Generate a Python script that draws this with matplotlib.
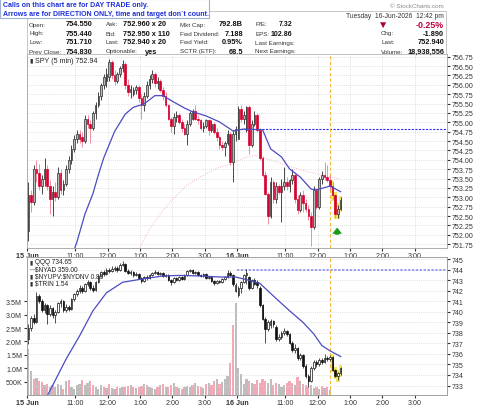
import numpy as np
import matplotlib.pyplot as plt
from matplotlib.patches import Rectangle

plt.rcParams['font.family'] = ['Liberation Sans', 'DejaVu Sans']

# 5 min bars: 15 Jun (bars 0-77) and 16 Jun up to 12:40 (bars 78-116)
spy_open = [752.10, 753.05, 752.88, 753.75, 753.65, 753.30, 753.50, 753.75, 753.30, 752.95,
            753.15, 753.00, 753.65, 753.20, 753.35, 753.75, 754.00, 754.30, 754.55, 754.70,
            754.60, 754.50, 755.10, 754.95, 754.85, 755.25, 755.45, 755.70, 756.00, 756.10,
            756.20, 756.60, 756.25, 756.10, 756.30, 756.45, 756.55, 756.00, 755.80, 755.75,
            755.85, 755.95, 755.65, 755.45, 755.70, 756.00, 756.15, 756.30, 756.05, 756.10,
            755.85, 755.70, 755.45, 755.10, 754.90, 755.15, 755.20, 755.00, 754.85, 754.70,
            754.95, 755.10, 755.30, 755.10, 755.05, 754.85, 754.90, 755.05, 754.80, 754.95,
            754.75, 754.60, 754.40, 754.35, 754.45, 754.70, 753.95, 754.70,
            754.55, 755.35, 755.10, 754.80, 755.40, 754.40, 754.95, 755.20, 754.80, 754.05,
            753.60, 753.10, 752.50, 753.40, 752.95, 753.30, 753.15, 753.30, 753.40, 753.30,
            753.45, 753.60, 752.95, 752.65, 753.05, 752.85, 752.70, 752.50, 752.20, 753.20,
            752.75, 753.50, 753.60, 753.55, 753.45, 753.30, 753.05, 752.55, 752.70]
spy_high = [753.40, 753.20, 753.85, 754.00, 753.90, 753.60, 754.05, 753.85, 753.45, 753.30,
            753.40, 753.80, 753.75, 753.45, 753.85, 754.10, 754.40, 754.65, 754.80, 754.80,
            754.75, 755.20, 755.20, 755.05, 755.30, 755.55, 755.80, 756.05, 756.30, 756.45,
            756.70, 756.65, 756.40, 756.35, 756.50, 756.65, 756.60, 756.15, 756.00, 755.95,
            756.00, 756.00, 755.75, 755.80, 756.10, 756.25, 756.40, 756.35, 756.20, 756.15,
            755.95, 755.80, 755.50, 755.15, 755.25, 755.30, 755.25, 755.10, 754.95, 755.05,
            755.30, 755.35, 755.45, 755.20, 755.10, 755.00, 755.10, 755.10, 755.05, 755.00,
            754.85, 754.65, 754.50, 754.50, 754.80, 754.75, 754.80, 754.90,
            755.44, 755.45, 755.30, 755.44, 755.45, 755.05, 755.30, 755.25, 754.85, 754.10,
            753.70, 753.15, 753.55, 753.45, 753.40, 753.35, 753.50, 753.80, 753.55, 753.50,
            753.75, 753.65, 753.05, 753.15, 753.20, 752.95, 752.80, 752.60, 753.30, 753.25,
            753.55, 753.70, 753.95, 753.85, 753.60, 753.40, 753.10, 752.80, 753.00]
spy_low = [751.84, 752.60, 752.80, 753.40, 753.20, 753.10, 753.30, 753.20, 752.55, 752.50,
           752.90, 752.95, 753.10, 753.05, 753.30, 753.65, 753.90, 754.20, 754.45, 754.45,
           754.35, 754.45, 754.85, 754.45, 754.80, 755.10, 755.40, 755.60, 755.90, 755.95,
           756.10, 756.15, 756.00, 756.05, 756.20, 756.35, 755.90, 755.70, 755.65, 755.70,
           755.75, 755.55, 755.10, 755.30, 755.65, 755.90, 756.05, 755.95, 755.90, 755.80,
           755.60, 755.40, 755.05, 754.75, 754.70, 755.00, 754.95, 754.75, 754.65, 754.40,
           754.90, 755.05, 755.05, 754.95, 754.80, 754.75, 754.85, 754.65, 754.75, 754.70,
           754.50, 754.30, 754.25, 754.10, 754.40, 753.85, 753.40, 754.50,
           754.55, 755.00, 754.95, 754.75, 754.15, 754.35, 754.90, 754.75, 754.00, 753.55,
           753.05, 752.30, 752.45, 752.85, 752.85, 753.10, 752.35, 753.20, 753.20, 753.15,
           753.35, 752.85, 752.55, 752.60, 752.60, 752.60, 752.40, 751.71, 752.15, 752.70,
           752.70, 753.35, 753.45, 753.40, 753.20, 752.95, 752.45, 752.45, 752.65]
spy_close = [753.05, 752.88, 753.75, 753.65, 753.30, 753.50, 753.75, 753.30, 752.95, 753.15,
             753.00, 753.65, 753.20, 753.35, 753.75, 754.00, 754.30, 754.55, 754.70, 754.55,
             754.50, 755.10, 754.95, 754.85, 755.25, 755.45, 755.70, 756.00, 756.20, 756.30,
             756.60, 756.25, 756.10, 756.30, 756.45, 756.55, 756.00, 755.80, 755.90, 755.85,
             755.95, 755.65, 755.45, 755.70, 756.00, 756.15, 756.30, 756.05, 756.10, 755.85,
             755.70, 755.45, 755.10, 754.90, 755.15, 755.20, 755.00, 754.85, 754.70, 754.95,
             755.25, 755.30, 755.10, 755.05, 754.85, 754.90, 755.05, 754.80, 754.95, 754.75,
             754.60, 754.40, 754.35, 754.45, 754.70, 753.95, 754.70, 754.83,
             755.35, 755.10, 755.20, 755.40, 754.40, 754.95, 755.20, 754.80, 754.05, 753.60,
             753.10, 752.50, 753.40, 752.95, 753.30, 753.15, 753.30, 753.40, 753.30, 753.45,
             753.60, 752.95, 752.65, 753.05, 752.85, 752.70, 752.50, 752.20, 753.20, 752.75,
             753.50, 753.60, 753.55, 753.45, 753.30, 753.05, 752.55, 752.70, 752.94]

qqq_open = [737.40, 738.50, 739.40, 739.00, 741.50, 741.00, 740.20, 740.60, 739.80, 740.40,
            739.70, 740.00, 740.80, 741.00, 740.20, 740.50, 740.30, 741.20, 741.70, 742.00,
            742.30, 742.00, 742.60, 742.80, 742.30, 742.10, 742.80, 743.40, 743.80, 743.60,
            744.00, 743.90, 744.10, 744.20, 744.00, 744.40, 744.50, 743.90, 743.70, 743.80,
            743.50, 743.60, 743.20, 742.90, 743.30, 743.20, 743.50, 743.70, 743.80, 743.60,
            743.70, 743.40, 743.50, 743.00, 742.80, 743.20, 743.00, 743.30, 743.10, 743.50,
            743.90, 744.00, 743.70, 743.80, 743.50, 743.40, 743.60, 743.20, 743.30, 742.90,
            742.70, 742.90, 742.80, 743.10, 743.30, 743.70, 743.50, 742.00,
            741.60, 742.30, 742.80, 743.50, 743.30, 742.30, 743.00, 742.80, 742.30, 740.60,
            739.30, 738.40, 738.70, 739.10, 738.60, 737.40, 737.60, 738.00, 738.20, 737.90,
            737.00, 736.40, 736.60, 735.60, 735.90, 734.90, 733.90, 733.40, 734.70, 735.20,
            735.00, 735.40, 735.20, 735.60, 735.50, 735.70, 734.50, 733.90, 734.20]
qqq_high = [738.80, 739.60, 739.80, 741.90, 741.70, 741.20, 740.80, 740.70, 740.60, 740.50,
            740.20, 740.90, 741.20, 741.10, 740.70, 740.60, 741.30, 741.80, 742.20, 742.50,
            742.40, 742.70, 743.00, 742.90, 742.50, 742.90, 743.50, 743.90, 744.00, 744.20,
            744.20, 744.30, 744.30, 744.30, 744.60, 744.80, 744.60, 744.10, 744.00, 743.90,
            743.80, 743.70, 743.30, 743.40, 743.50, 743.60, 743.80, 744.00, 743.90, 743.80,
            743.80, 743.60, 743.60, 743.10, 743.30, 743.30, 743.40, 743.40, 743.60, 744.00,
            744.10, 744.10, 743.90, 743.90, 743.60, 743.70, 743.70, 743.40, 743.40, 743.00,
            743.00, 743.00, 743.20, 743.40, 744.00, 743.90, 743.60, 742.70,
            742.40, 742.90, 743.60, 744.05, 743.40, 743.10, 743.20, 743.00, 742.40, 740.70,
            739.50, 739.20, 739.30, 739.20, 738.70, 737.90, 738.20, 738.50, 738.30, 738.00,
            737.20, 736.90, 736.70, 736.10, 736.00, 735.00, 734.10, 734.90, 735.40, 735.40,
            735.60, 735.60, 736.00, 735.80, 735.90, 735.80, 734.60, 734.30, 734.80]
qqq_low = [736.90, 738.20, 738.80, 738.90, 740.80, 740.00, 739.90, 738.80, 739.60, 739.40,
           738.90, 739.90, 740.50, 740.00, 740.00, 740.10, 740.20, 741.00, 741.50, 741.80,
           741.80, 741.90, 742.40, 742.10, 741.90, 742.00, 742.70, 743.30, 743.40, 743.50,
           743.70, 743.80, 743.90, 743.80, 743.90, 744.30, 743.80, 743.60, 743.50, 743.30,
           743.40, 743.10, 742.70, 742.80, 743.00, 743.10, 743.40, 743.60, 743.50, 743.50,
           743.30, 743.30, 742.90, 742.50, 742.70, 742.90, 742.90, 743.00, 743.00, 743.40,
           743.80, 743.60, 743.60, 743.40, 743.30, 743.30, 743.10, 743.10, 742.80, 742.50,
           742.60, 742.70, 742.70, 743.00, 743.20, 743.40, 742.40, 741.90,
           741.40, 741.80, 742.70, 742.60, 742.10, 742.20, 742.50, 742.30, 740.50, 739.20,
           737.00, 738.20, 738.50, 738.60, 737.20, 737.20, 737.40, 737.80, 737.70, 736.90,
           736.20, 736.10, 735.40, 735.40, 734.70, 733.70, 732.90, 733.30, 734.50, 734.80,
           734.90, 735.00, 735.10, 735.30, 735.30, 734.40, 733.80, 733.50, 734.00]
qqq_close = [738.50, 739.40, 739.00, 741.50, 741.00, 740.20, 740.60, 739.80, 740.40, 739.70,
             740.00, 740.80, 741.00, 740.20, 740.50, 740.30, 741.20, 741.70, 742.00, 742.30,
             742.00, 742.60, 742.80, 742.30, 742.10, 742.80, 743.40, 743.80, 743.60, 744.00,
             743.90, 744.10, 744.20, 744.00, 744.40, 744.50, 743.90, 743.70, 743.80, 743.50,
             743.60, 743.20, 742.90, 743.30, 743.20, 743.50, 743.70, 743.80, 743.60, 743.70,
             743.40, 743.50, 743.00, 742.80, 743.20, 743.00, 743.30, 743.10, 743.50, 743.90,
             744.00, 743.70, 743.80, 743.50, 743.40, 743.60, 743.20, 743.30, 742.90, 742.70,
             742.90, 742.80, 743.10, 743.30, 743.70, 743.50, 742.60, 742.50,
             742.30, 742.80, 743.50, 743.70, 742.30, 743.00, 742.60, 742.50, 740.60, 739.30,
             738.40, 739.00, 739.10, 738.80, 737.40, 737.60, 738.00, 738.20, 737.90, 737.00,
             736.40, 736.60, 735.60, 735.90, 734.90, 733.90, 733.40, 734.70, 735.20, 735.00,
             735.40, 735.20, 735.60, 735.50, 735.70, 734.50, 733.90, 734.20, 734.65]

# QQQ volume in millions (bars 0-112)
qqq_vol = [1.70, 0.88, 0.60, 0.62, 0.52, 0.47, 0.36, 0.40, 0.30, 0.36,
           0.30, 0.42, 0.38, 0.22, 0.52, 0.55, 0.30, 0.22, 0.36, 0.42,
           0.55, 0.36, 0.45, 0.52, 0.36, 0.28, 0.24, 0.36, 0.30, 0.26,
           0.40, 0.26, 0.22, 0.30, 0.26, 0.28, 0.30, 0.34, 0.36, 0.30,
           0.26, 0.30, 0.34, 0.40, 0.36, 0.30, 0.26, 0.22, 0.28, 0.36,
           0.42, 0.30, 0.28, 0.36, 0.44, 0.30, 0.26, 0.22, 0.30, 0.34,
           0.30, 0.36, 0.44, 0.32, 0.30, 0.26, 0.40, 0.46, 0.36, 0.52,
           0.60, 0.40, 0.50, 0.58, 0.70, 1.20, 2.63, 3.45,
           1.02, 0.78, 0.42, 0.60, 0.52, 0.46, 0.40, 0.55, 0.46, 0.60,
           0.52, 0.44, 0.60, 0.36, 0.46, 0.40, 0.30, 0.36, 0.44, 0.52,
           0.44, 0.36, 0.66, 0.52, 0.40, 0.36, 0.30, 0.38, 0.26, 0.30,
           0.24, 0.32, 0.26, 0.28, 0.20]

# moving averages (bar index, value)
spy_ma_x = [16, 18, 21, 24, 26, 28, 30, 32, 36, 39, 43, 47, 50, 54, 58, 61, 66, 71, 76, 80, 87, 90, 94, 97, 101, 105, 107, 112, 116]
spy_ma_y = [751.40, 751.80, 752.55, 753.10, 753.60, 754.05, 754.40, 754.75, 755.22, 755.40, 755.49, 755.71, 755.71,
            755.54, 755.38, 755.28, 755.17, 755.01, 754.77, 754.82, 754.80, 754.29, 754.08, 753.76, 753.54,
            753.22, 753.20, 753.30, 753.15]
spy_ma2_x = [41, 45, 50, 54, 59, 64, 70, 76, 80, 84, 90, 97, 104, 110, 116]
spy_ma2_y = [751.60, 752.15, 752.65, 752.98, 753.33, 753.55, 753.78, 753.90, 754.05, 754.12, 754.00, 753.82,
             753.68, 753.58, 753.48]
qqq_ma_x = [7, 11, 14, 19, 24, 29, 35, 42, 50, 56, 64, 71, 77, 81, 86, 91, 97, 102, 106, 109, 112, 116]
qqq_ma_y = [732.00, 734.00, 735.50, 737.70, 740.10, 741.80, 742.80, 743.10, 743.40, 743.45, 743.40, 743.30,
            743.30, 743.05, 742.70, 741.50, 740.10, 739.00, 737.90, 736.80, 736.30, 735.75]

spy_prev_close = 754.83
qqq_ref = 744.0
highlight_bars = [113, 114, 115, 116]

tick_pos = [-0.5, 17.5, 29.5, 41.5, 53.5, 65.5, 77.5, 95.5, 107.5, 119.5, 131.5, 143.5]
tick_lab = ['15 Jun', '11:00', '12:00', '1:00', '2:00', '3:00', '16 Jun', '11:00', '12:00', '1:00', '2:00', '3:00']


def candles(ax, o, h, l, c, up_fc, up_ec, dn_fc, dn_ec, up_wk, dn_wk, min_h):
    o, h, l, c = map(np.array, (o, h, l, c))
    x = np.arange(len(c))
    up = c >= o
    ax.vlines(x, l, h, colors=[up_wk if u else dn_wk for u in up], lw=0.6, zorder=3)
    ax.bar(x, np.maximum(np.abs(c - o), min_h), bottom=np.minimum(o, c), width=0.62,
           color=[up_fc if u else dn_fc for u in up],
           edgecolor=[up_ec if u else dn_ec for u in up], linewidth=0.5, zorder=4)


def style_axis(ax):
    ax.set_xlim(-0.5, 155.5)
    ax.set_xticks(tick_pos)
    ax.set_xticklabels(tick_lab)
    for t in ax.get_xticklabels():
        if 'Jun' in t.get_text():
            t.set_fontweight('bold')
    ax.tick_params(axis='x', labelsize=5.1, length=2, pad=1, colors='#333333')
    for s in ax.spines.values():
        s.set_color('#a0a0a0')
        s.set_linewidth(0.6)


fig = plt.figure(figsize=(4.8, 4.06), dpi=100)

# ---- upper panel: SPY ----
ax1 = fig.add_axes([27 / 480, 1 - 249 / 406, 420 / 480, 194 / 406])
for i in highlight_bars:
    ax1.bar(i, spy_high[i] - spy_low[i] + 0.08, bottom=spy_low[i] - 0.04, width=1.3, color='#f3e55c', zorder=2)
candles(ax1, spy_open, spy_high, spy_low, spy_close,
        '#b9b9b9', '#2b2b2b', '#d6002e', '#d6002e', '#2b2b2b', '#ec7d95', 0.02)
ax1.plot(spy_ma_x, spy_ma_y, color='#4b4bc4', lw=0.9, zorder=5)
ax1.plot(spy_ma2_x, spy_ma2_y, color='#f2b8c4', lw=0.7, ls=(0, (1, 1.5)), zorder=2)
ax1.hlines(spy_prev_close, 77.5, 155.5, colors='#2f2ff5', linestyles=(0, (2, 1.2)), lw=0.8, zorder=2)
ax1.axvline(111.9, color='#f2b63a', ls=(0, (3, 2)), lw=0.8, zorder=2)
ax1.annotate('', xy=(114.7, 752.27), xytext=(114.7, 751.93),
             arrowprops=dict(arrowstyle='simple,head_width=0.7,head_length=0.45,tail_width=0.32',
                             color='#1a9c1a', lw=0))
ax1.set_ylim(751.65, 756.82)
yt = np.arange(751.75, 756.76, 0.25)
ax1.set_yticks(yt)
ax1.set_yticklabels(['%.2f' % v for v in yt])
ax1.yaxis.tick_right()
ax1.tick_params(axis='y', labelsize=5.1, length=2, pad=1.5, colors='#333333')
ax1.grid(True, color='#d6d6d6', ls=(0, (1, 1.5)), lw=0.6)
ax1.set_axisbelow(True)
style_axis(ax1)
ax1.text(0.006, 0.969, '\u25ae', transform=ax1.transAxes, fontsize=4.5, va='center', color='#333333')
ax1.text(0.02, 0.969, 'SPY (5 min) 752.94', transform=ax1.transAxes, fontsize=5.1, va='center', color='#222222')

# ---- lower panel: QQQ with volume ----
ax2 = fig.add_axes([27 / 480, 1 - 396 / 406, 420 / 480, 138 / 406])
vx = np.arange(len(qqq_vol))
vcol = ['#bdbdbd' if qqq_close[i] >= qqq_open[i] else '#f2a9b5' for i in vx]
ax2.bar(vx, np.array(qqq_vol) * 1e6, width=0.85, color=vcol, zorder=1)
ax2.set_ylim(0, 5.15e6)
ax2.set_yticks([0.5e6, 1e6, 1.5e6, 2e6, 2.5e6, 3e6, 3.5e6])
ax2.set_yticklabels(['500K', '1.0M', '1.5M', '2.0M', '2.5M', '3.0M', '3.5M'])
ax2.tick_params(axis='y', labelsize=5.1, length=2, pad=1.5, colors='#333333')
style_axis(ax2)

ax2q = ax2.twinx()
ax2q.grid(True, color='#d6d6d6', ls=(0, (1, 1.5)), lw=0.6)
for i in highlight_bars:
    ax2q.bar(i, qqq_high[i] - qqq_low[i] + 0.3, bottom=qqq_low[i] - 0.15, width=1.3, color='#f3e55c', zorder=2)
candles(ax2q, qqq_open, qqq_high, qqq_low, qqq_close,
        '#ffffff', '#111111', '#111111', '#111111', '#333333', '#333333', 0.05)
ax2q.plot(qqq_ma_x, qqq_ma_y, color='#4b4bc4', lw=0.9, zorder=5)
ax2q.hlines(qqq_ref, 77.5, 155.5, colors='#9c9cf2', linestyles=(0, (1.2, 0.8)), lw=1.4, zorder=2)
ax2q.axvline(111.9, color='#f2b63a', ls=(0, (3, 2)), lw=0.8, zorder=2)
ax2q.set_ylim(732.1, 745.2)
ax2q.set_yticks(range(733, 746))
ax2q.tick_params(axis='y', labelsize=5.1, length=2, pad=1.5, colors='#333333')
style_axis(ax2q)

legend_rows = ['QQQ 734.65', r'\$NYAD 359.00', r'\$NYUPV:\$NYDNV 0.85', r'\$TRIN 1.54']
legend_icons = ['\u25ae', '\u2014', '\u25ae', '\u25ae']
legend_y = [263, 270, 277, 283.5]
for ic, txt, ry in zip(legend_icons, legend_rows, legend_y):
    yy = 1 - (ry - 258) / 138
    ax2q.text(0.006, yy, ic, transform=ax2q.transAxes, fontsize=4.2, va='center', color='#333333', zorder=9)
    ax2q.text(0.02, yy, txt, transform=ax2q.transAxes, fontsize=4.7, va='center', color='#222222', zorder=9)

# ---- info box ----
fig.add_artist(Rectangle((27 / 480, 1 - 55 / 406), 419 / 480, 43 / 406, transform=fig.transFigure,
                         facecolor='white', edgecolor='#bdbdbd', lw=0.6))


def ftext(x, y, s, ha='left', bold=False, color='#333333', size=4.5):
    fig.text(x / 480, 1 - y / 406, s, ha=ha, va='center', fontsize=size,
             fontweight='bold' if bold else 'normal', color=color)


def fval(x, y, s, ha='right', color='#111111', size=5.3):
    ftext(x, y, s, ha=ha, bold=True, color=color, size=size)


rows_y = [25, 34, 43, 52]
col1_lab = ['Open:', 'High:', 'Low:', 'Prev Close:']
col1_val = ['754.550', '755.440', '751.710', '754.830']
col2_lab = ['Ask:', 'Bid:', 'Last:', 'Optionable:']
col2_val = ['752.960 x 20', '752.950 x 110', '752.940 x 20', 'yes']
col3_lab = ['Mkt Cap:', 'Fwd Dividend:', 'Fwd Yield:', 'SCTR (ETF):']
col3_val = ['792.8B', '7.188', '0.95%', '68.5']
col4_lab = ['P/E:', 'EPS:', 'Last Earnings:', 'Next Earnings:']
col4_val = ['7.32', '102.86', '', '']
col5_lab = ['', 'Chg:', 'Last:', 'Volume:']
col5_val = ['-0.25%', '-1.890', '752.940', '18,938,556']

for k, y in enumerate(rows_y):
    ftext(29, y, col1_lab[k])
    fval(92, y, col1_val[k])
    ftext(106, y, col2_lab[k])
    if col2_val[k] == 'yes':
        fval(157, y, col2_val[k])
    else:
        fval(123, y, col2_val[k], ha='left')
    ftext(180, y, col3_lab[k])
    fval(243, y, col3_val[k])
    ftext(255, y, col4_lab[k])
    fval(292, y, col4_val[k], size=5.0)
    ftext(381, y, col5_lab[k])
    if k == 0:
        fval(444, y, col5_val[k], color='#c0003a', size=6.4)
    else:
        fval(444, y, col5_val[k])

ftext(383, 25, '\u25bc', ha='center', color='#a8003a', size=7.5)
ftext(444, 16, 'Tuesday  16-Jun-2026  12:42 pm', ha='right', size=4.8)
ftext(444, 6, '\u00a9 StockCharts.com', ha='right', color='#8a8a8a', size=4.5)

# ---- header note ----
fig.add_artist(Rectangle((0, 1 - 19 / 406), 209 / 480, 19 / 406, transform=fig.transFigure,
                         facecolor='white', edgecolor='#9fb0d6', lw=0.8))
ftext(3, 5.5, 'Calls on this chart are for DAY TRADE only.', bold=True, color='#1d2ed8', size=5.0)
ftext(3, 14, 'Arrows are for DIRECTION ONLY, time and target don`t count.', bold=True, color='#1d2ed8', size=5.0)

fig.savefig('out.png', dpi=100)
